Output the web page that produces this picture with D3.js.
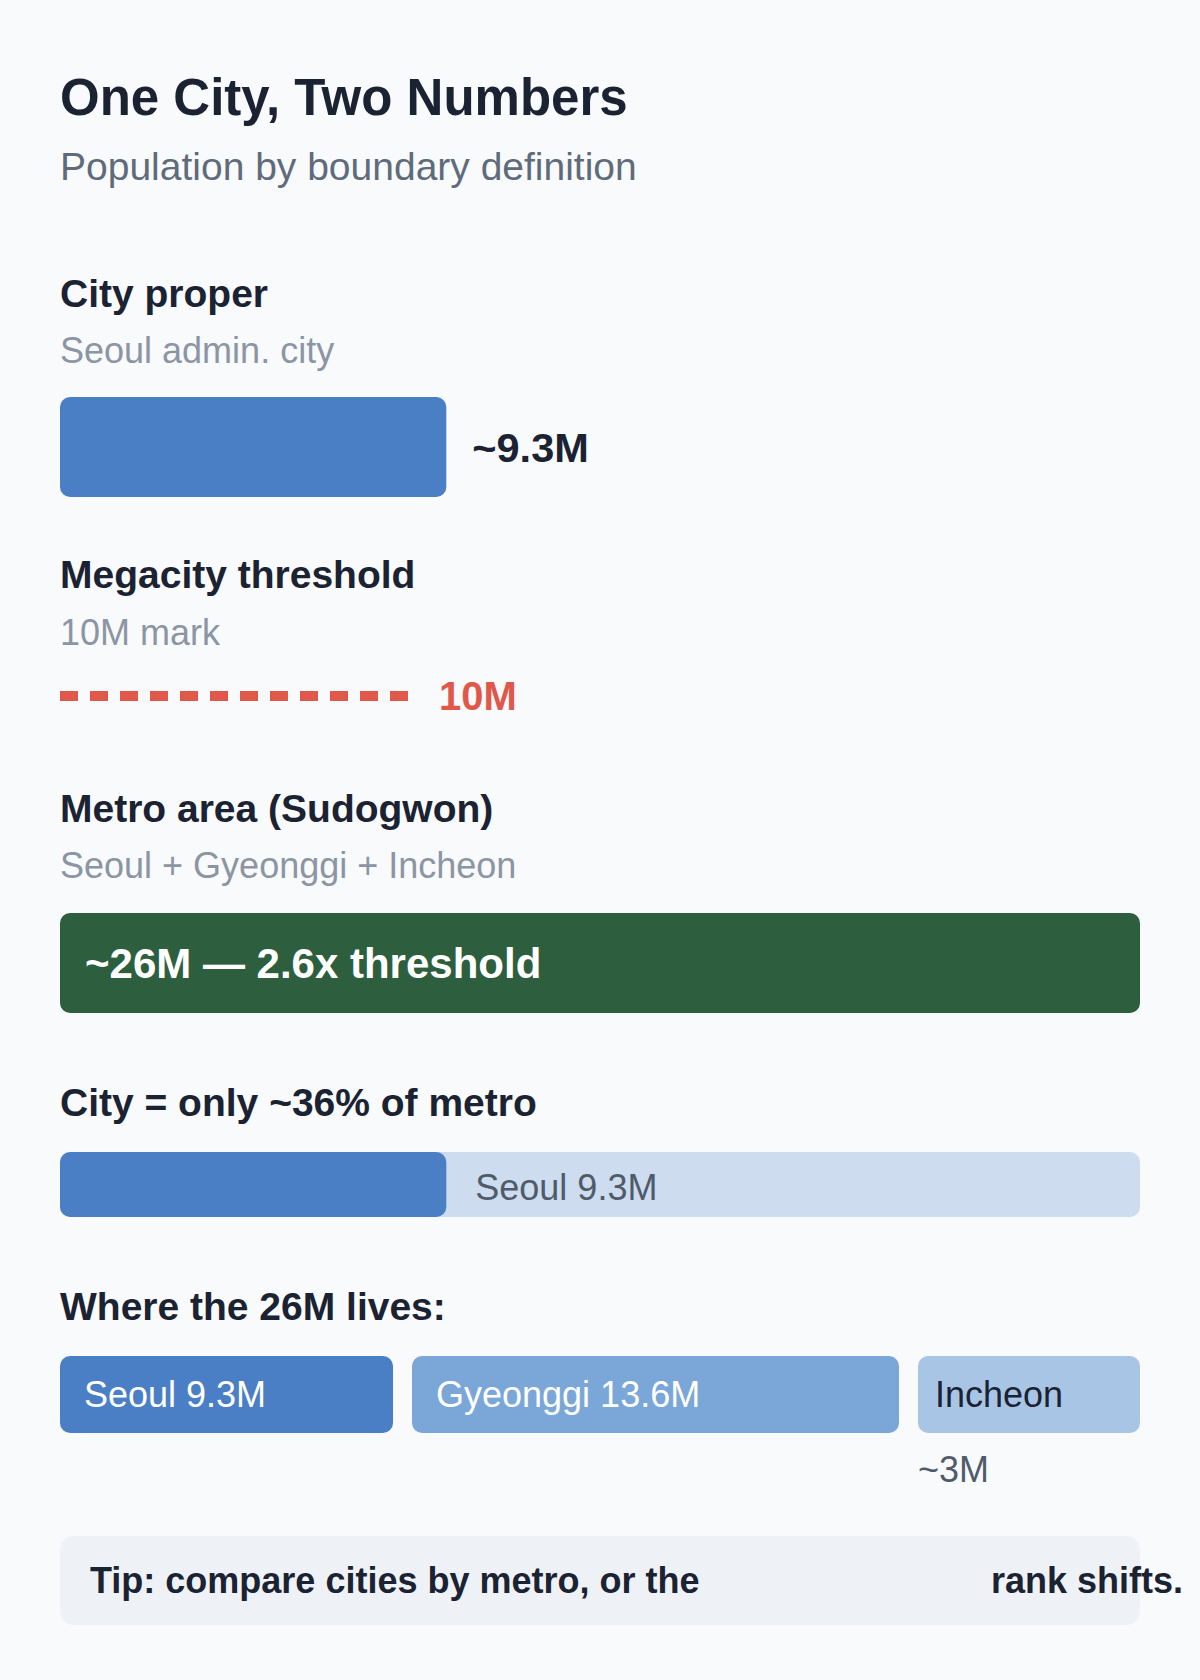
<!DOCTYPE html>
<html>
<head>
<meta charset="utf-8">
<script src="https://cdn.jsdelivr.net/npm/d3@7"></script>
<style>
  html, body { margin: 0; padding: 0; background: #f8fafc; }
  svg { display: block; font-family: "Liberation Sans", Arial, sans-serif; }
</style>
</head>
<body>
<svg width="1200" height="1680"></svg>
<script>
// data
const title = "One City, Two Numbers"
const subtitle = "Population by boundary definition"
const headings = ["City proper", "Megacity threshold", "Metro area (Sudogwon)", "City = only ~36% of metro", "Where the 26M lives:"]
const notes = ["Seoul admin. city", "10M mark", "Seoul + Gyeonggi + Incheon"]
const cityPop = 9.3
const threshold = 10
const metroPop = 26
const parts = ["Seoul", "Gyeonggi", "Incheon"]
const partValues = [9.3, 13.6, 3]
const partLabels = ["Seoul 9.3M", "Gyeonggi 13.6M", "Incheon ~3M"]
const tipText = ["Tip: compare cities by metro, or the", "rank shifts."]

const width = 1200
const left = 60
const right = 1140
const inner = right - left
const dark = "#1b2332"

const svg = d3.select("svg")
svg.append("rect").attr("width", width).attr("height", 1680).attr("fill", "#f8fafc")

const x = d3.scaleLinear().domain([0, metroPop]).range([0, inner])
// the threshold marker row runs on a 0-30M ruler
const markX = d3.scaleLinear().domain([0, 30]).range([0, inner])

const txt = (str, px, py, size, weight, color) =>
	svg.append("text")
		.attr("x", px).attr("y", py)
		.attr("font-size", size)
		.attr("font-weight", weight)
		.attr("fill", color)
		.text(str)

const mid = (cy, size) => cy + size * 0.36

// title
txt(title, left, 115, 51, "bold", dark)
txt(subtitle, left, 180, 39, "normal", "#5f6b7a")

// section headings + notes
const headY = [307, 588, 822, 1116, 1320]
const noteY = [363, 645, 878]
headings.forEach((h, i) => txt(h, left, headY[i], 39, "bold", dark))
notes.forEach((n, i) => txt(n, left, noteY[i], 36, "normal", "#8b95a3"))

// city proper bar
svg.append("rect")
	.attr("x", left).attr("y", 397)
	.attr("width", x(cityPop)).attr("height", 100)
	.attr("rx", 10)
	.attr("fill", "#4b7fc5")
txt("~" + cityPop + "M", left + x(cityPop) + 26, mid(447, 41), 41.5, "bold", dark)

// threshold line
svg.append("line")
	.attr("x1", left).attr("x2", left + markX(threshold))
	.attr("y1", 696).attr("y2", 696)
	.attr("stroke", "#e0584a")
	.attr("stroke-width", 10)
	.attr("stroke-dasharray", "18 12")
txt(threshold + "M", left + markX(threshold) + 19, mid(696, 40), 40, "bold", "#e0584a")

// metro bar
svg.append("rect")
	.attr("x", left).attr("y", 913)
	.attr("width", x(metroPop)).attr("height", 100)
	.attr("rx", 10)
	.attr("fill", "#2d5f3f")
txt("~" + metroPop + "M \u2014 " + (metroPop / threshold).toFixed(1) + "x threshold", left + 25, mid(963, 42), 42, "bold", "#ffffff")

// share of metro
svg.append("rect")
	.attr("x", left).attr("y", 1152)
	.attr("width", x(metroPop)).attr("height", 65)
	.attr("rx", 10)
	.attr("fill", "#cddcee")
svg.append("rect")
	.attr("x", left).attr("y", 1152)
	.attr("width", x(cityPop)).attr("height", 65)
	.attr("rx", 10)
	.attr("fill", "#4b7fc5")
txt("Seoul " + cityPop + "M", left + x(cityPop) + 29, 1200, 36, "normal", "#4f5b6b")

// where the metro lives: flex-like row, small parts keep a minimum width
const gap = 19
const minSeg = 222
const avail = inner - gap * (parts.length - 1)
const total = d3.sum(partValues)
const small = partValues.map(v => v / total * avail < minSeg)
const restSum = d3.sum(partValues.filter((v, i) => !small[i]))
const segX = d3.scaleLinear()
	.domain([0, restSum])
	.range([0, avail - minSeg * small.filter(Boolean).length])
const segW = partValues.map((v, i) => small[i] ? minSeg : segX(v))
const segStart = segW.map((w, i) => left + d3.sum(segW.slice(0, i)) + gap * i)
const segFill = ["#4b7fc5", "#7aa6d8", "#a8c5e5"]
const segText = ["#ffffff", "#ffffff", dark]

svg.selectAll("rect.seg")
	.data(parts)
	.enter()
	.append("rect")
	.attr("class", "seg")
	.attr("x", (d, i) => segStart[i])
	.attr("y", 1356)
	.attr("width", (d, i) => segW[i])
	.attr("height", 77)
	.attr("rx", 10)
	.attr("fill", (d, i) => segFill[i])

partLabels.forEach((lab, i) => {
	const pad = small[i] ? 17 : 24
	const t = txt(lab, segStart[i] + pad, 1407, 36, "normal", segText[i])
	// wrap the overflow onto the next line, below the box
	if (t.node().getComputedTextLength() > segW[i] - 2 * pad) {
		const words = lab.split(" ")
		t.text(words[0])
		txt(words.slice(1).join(" "), segStart[i], 1482, 36, "normal", "#4f5b6b")
	}
})

// tip box
svg.append("rect")
	.attr("x", left).attr("y", 1536)
	.attr("width", inner).attr("height", 89)
	.attr("rx", 14)
	.attr("fill", "#eef2f7")
txt(tipText[0], left + 30, mid(1580.5, 36), 36, "bold", dark)
txt(tipText[1], 991, mid(1580.5, 36), 36, "bold", dark)
</script>
</body>
</html>
